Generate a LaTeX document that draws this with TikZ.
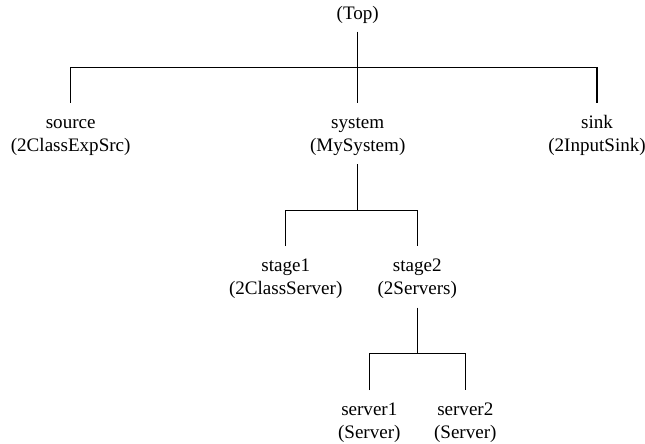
\documentclass[tikz,border=0pt]{standalone}
\usepackage{fontspec}
\setmainfont{Liberation Serif}
\usetikzlibrary{positioning}

\tikzset{
  block/.style={align=center,inner sep=0pt,anchor=north,
    text height=36.05pt,text depth=9.4pt,
    font=\fontsize{14.3}{17.25}\selectfont},
  root/.style={block,anchor=south,text height=10pt,text depth=8.6pt}
}

\begin{document}
\begin{tikzpicture}[x=0.75pt,y=-0.75pt,line width=0.8pt]
        \useasboundingbox (0,0) rectangle (645,443);
        % modules and their classes
        \node[root]  (top)     at (357.7,31.7)  {(Top)};
        \node[block] (source)  at (70.7,102.7)  {source\\(2ClassExpSrc)};
        \node[block] (system)  at (357.7,102.7) {system\\(MySystem)};
        \node[block] (sink)    at (597,102.7)   {sink\\(2InputSink)};
        \node[block] (stage1)  at (285.7,246)   {stage1\\(2ClassServer)};
        \node[block] (stage2)  at (417.3,246)   {stage2\\(2Servers)};
        \node[block] (server1) at (369.3,390)   {server1\\(Server)};
        \node[block] (server2) at (465.3,390)   {server2\\(Server)};

        % branch points
        \coordinate (topbar)    at (357.7,67.3);
        \coordinate (systembar) at (357.7,210.7);
        \coordinate (stagebar)  at (417.3,353.3);

        \draw (top.south) -- (topbar);
        \draw (source.north) |- (topbar) -| (sink.north);
        \draw (topbar) -- (system.north);

        \draw (system.south) -- (systembar);
        \draw (stage1.north) |- (systembar) -| (stage2.north);

        \draw (stage2.south) -- (stagebar);
        \draw (server1.north) |- (stagebar) -| (server2.north);
\end{tikzpicture}
\end{document}
